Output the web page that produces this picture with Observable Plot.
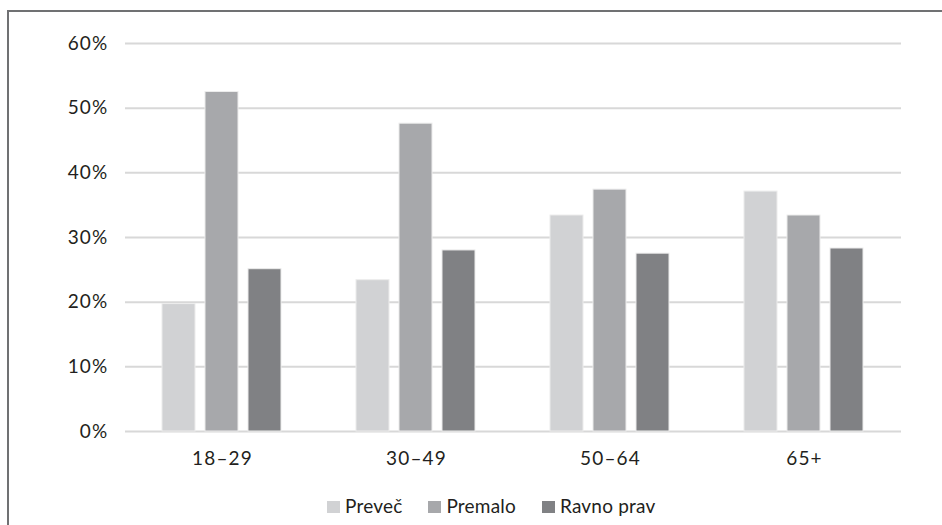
<!DOCTYPE html>
<html>
<head>
<meta charset="utf-8">
<script src="https://cdn.jsdelivr.net/npm/d3@7"></script>
<script src="https://cdn.jsdelivr.net/npm/@observablehq/plot@0.6"></script>
<style>
  html, body { margin: 0; padding: 0; background: #fff; width: 942px; height: 525px; overflow: hidden; }
  #frame { position: absolute; left: 7px; top: 10px; width: 1000px; height: 600px;
           border-left: 2px solid #707173; border-top: 2px solid #707173; }
  #chart { position: absolute; left: 0; top: 0; }
  #legend { position: absolute; left: 327px; top: 494px; display: flex; align-items: center;
            font-family: Lato, "Noto Sans", sans-serif; font-size: 19px; letter-spacing: 0.2px; color: #231f20; }
  .item { display: flex; align-items: center; margin-right: 26px; }
  .sw { width: 13px; height: 12px; margin-right: 5px; margin-top: 3px; }
</style>
</head>
<body>
<div id="frame"></div>
<div id="chart"></div>
<div id="legend"></div>
<script>
const ages = ["18–29", "30–49", "50–64", "65+"];
const series = ["Preveč", "Premalo", "Ravno prav"];
const prevec = [19.7, 23.4, 33.4, 37.1];
const premalo = [52.5, 47.6, 37.4, 33.4];
const ravnoPrav = [25.1, 28.0, 27.5, 28.3];
const colors = ["#d1d2d4", "#a7a8ab", "#808184"];
const yTicks = [0, 10, 20, 30, 40, 50, 60];

const valuesBySeries = [prevec, premalo, ravnoPrav];
const data = ages.flatMap((age, i) =>
  series.map((s, j) => ({ age, series: s, value: valuesBySeries[j][i] }))
);

const chart = Plot.plot({
  width: 942,
  height: 480,
  marginLeft: 124,
  marginRight: 40,
  marginTop: 43,
  marginBottom: 49,
  style: { fontFamily: "Lato, 'Noto Sans', sans-serif", fontSize: "19px", color: "#231f20", background: "transparent", letterSpacing: "1.2px" },
  fx: { domain: ages, padding: 0, label: null, tickSize: 0, tickPadding: 20, axis: "bottom" },
  x: { domain: series, axis: null, paddingInner: 0.225, paddingOuter: 0.8625 },
  y: { domain: [0, 60], ticks: yTicks, tickFormat: d => d + "%", tickSize: 0, tickPadding: 17, label: null },
  color: { domain: series, range: colors },
  marks: [
    Plot.ruleY(yTicks, { stroke: "#d8d8d8", strokeWidth: 2 }),
    Plot.barY(data, { fx: "age", x: "series", y: "value", fill: "series", stroke: "#ececec", strokeWidth: 1 })
  ]
});
document.getElementById("chart").appendChild(chart);

const legend = document.getElementById("legend");
series.forEach((s, i) => {
  const item = document.createElement("div");
  item.className = "item";
  const sw = document.createElement("span");
  sw.className = "sw";
  sw.style.background = colors[i];
  const label = document.createElement("span");
  label.textContent = s;
  item.appendChild(sw);
  item.appendChild(label);
  legend.appendChild(item);
});
</script>
</body>
</html>
